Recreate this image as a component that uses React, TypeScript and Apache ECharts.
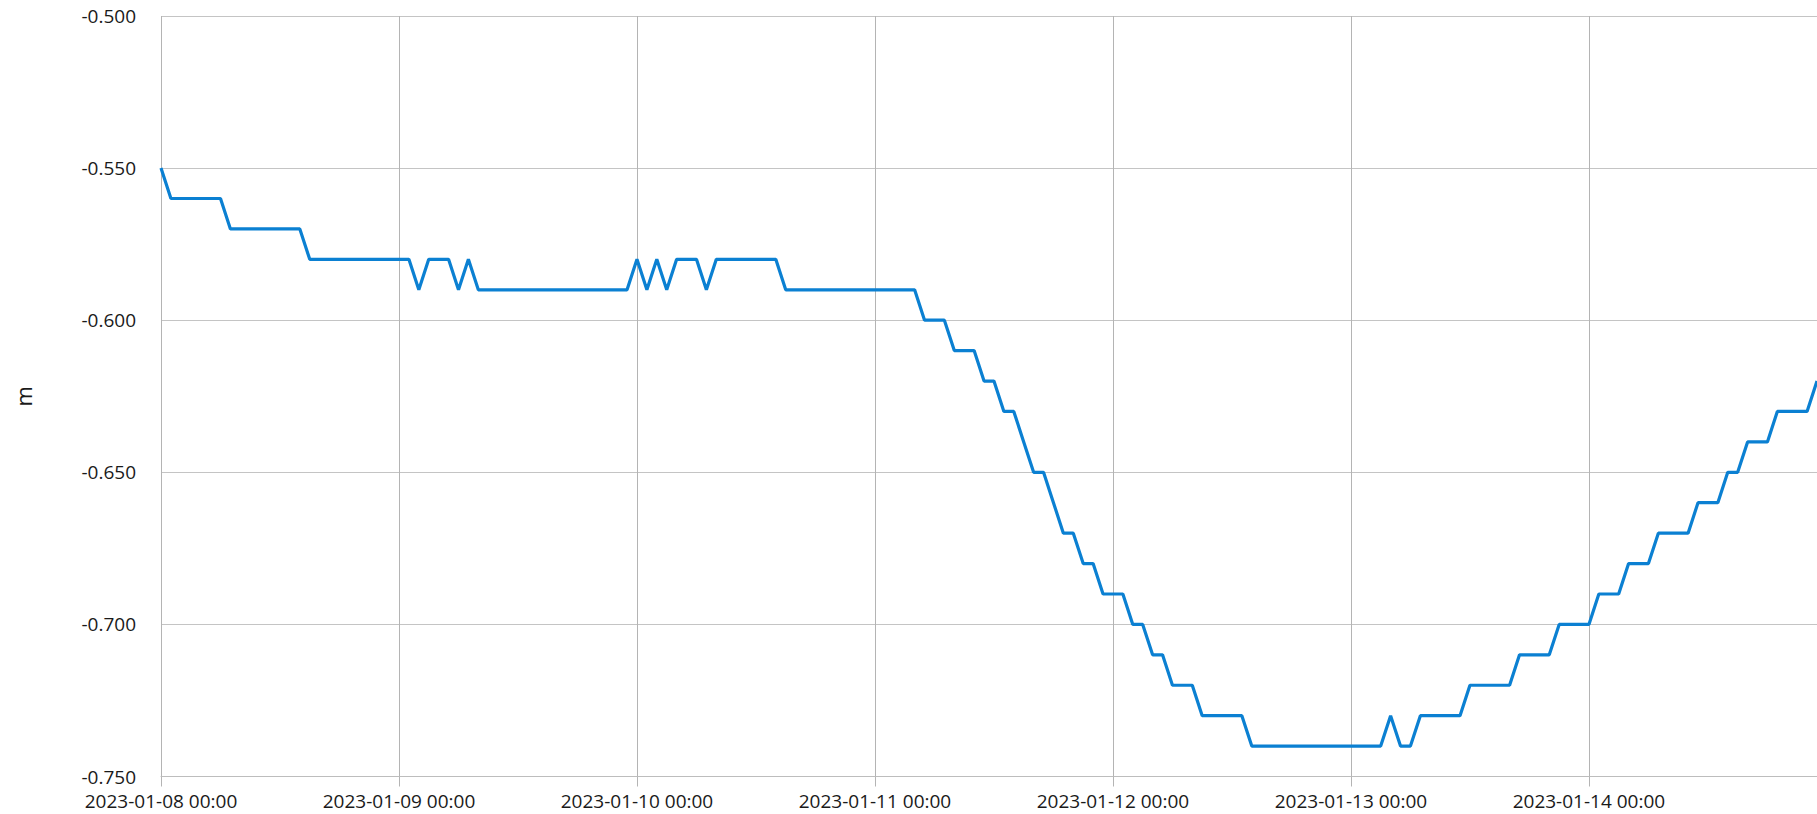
import React, { useEffect, useRef } from "react";
import * as echarts from "echarts";

// Hourly water level (m), starting 2023-01-08 00:00
const startYear = 2023;
const startMonth = 0; // January
const startDay = 8;

const values: number[] = [
  -0.55,
  -0.56, -0.56, -0.56, -0.56, -0.56, -0.56,
  -0.57, -0.57, -0.57, -0.57, -0.57, -0.57, -0.57, -0.57,
  -0.58, -0.58, -0.58, -0.58, -0.58, -0.58, -0.58, -0.58, -0.58, -0.58, -0.58,
  -0.59,
  -0.58, -0.58, -0.58,
  -0.59,
  -0.58,
  -0.59, -0.59, -0.59, -0.59, -0.59, -0.59, -0.59, -0.59, -0.59, -0.59, -0.59, -0.59, -0.59, -0.59, -0.59, -0.59,
  -0.58,
  -0.59,
  -0.58,
  -0.59,
  -0.58, -0.58, -0.58,
  -0.59,
  -0.58, -0.58, -0.58, -0.58, -0.58, -0.58, -0.58,
  -0.59, -0.59, -0.59, -0.59, -0.59, -0.59, -0.59, -0.59, -0.59, -0.59, -0.59, -0.59, -0.59, -0.59,
  -0.60, -0.60, -0.60,
  -0.61, -0.61, -0.61,
  -0.62, -0.62,
  -0.63, -0.63,
  -0.64,
  -0.65, -0.65,
  -0.66,
  -0.67, -0.67,
  -0.68, -0.68,
  -0.69, -0.69, -0.69,
  -0.70, -0.70,
  -0.71, -0.71,
  -0.72, -0.72, -0.72,
  -0.73, -0.73, -0.73, -0.73, -0.73,
  -0.74, -0.74, -0.74, -0.74, -0.74, -0.74, -0.74, -0.74, -0.74, -0.74, -0.74, -0.74, -0.74, -0.74,
  -0.73,
  -0.74, -0.74,
  -0.73, -0.73, -0.73, -0.73, -0.73,
  -0.72, -0.72, -0.72, -0.72, -0.72,
  -0.71, -0.71, -0.71, -0.71,
  -0.70, -0.70, -0.70, -0.70,
  -0.69, -0.69, -0.69,
  -0.68, -0.68, -0.68,
  -0.67, -0.67, -0.67, -0.67,
  -0.66, -0.66, -0.66,
  -0.65, -0.65,
  -0.64, -0.64, -0.64,
  -0.63, -0.63, -0.63, -0.63,
  -0.62,
];

const pad = (n: number) => (n < 10 ? "0" + n : "" + n);

const categories: string[] = values.map((_, i) => {
  const d = new Date(startYear, startMonth, startDay, i, 0, 0);
  return `${d.getFullYear()}-${pad(d.getMonth() + 1)}-${pad(d.getDate())} ${pad(d.getHours())}:${pad(d.getMinutes())}`;
});

const yMin = -0.75;
const yMax = -0.5;
const yStep = 0.05;
const yName = "m";

export default function App() {
  const ref = useRef<HTMLDivElement>(null);
  useEffect(() => {
    if (!ref.current) return;
    const chart = echarts.init(ref.current, undefined, { renderer: "svg" });
    const font = "'Open Sans', 'Noto Sans', sans-serif";
    chart.setOption({
      animation: false,
      backgroundColor: "#ffffff",
      grid: { left: 161, right: 0, top: 16, bottom: 37.5, containLabel: false },
      xAxis: {
        type: "category",
        data: categories,
        boundaryGap: false,
        axisLine: { show: true, lineStyle: { color: "#bdbdbd", width: 1 } },
        axisTick: { show: true, interval: 23, length: 10, lineStyle: { color: "#b4b4b4" } },
        axisLabel: {
          interval: 23,
          margin: 15,
          color: "#1a1a1a",
          fontFamily: font,
          fontSize: 19,
        },
        splitLine: { show: true, interval: 23, lineStyle: { color: "#b4b4b4", width: 1 } },
      },
      yAxis: {
        type: "value",
        min: yMin,
        max: yMax,
        interval: yStep,
        name: yName,
        nameLocation: "middle",
        nameGap: 127,
        nameTextStyle: { color: "#1a1a1a", fontFamily: font, fontSize: 22 },
        axisLine: { show: false },
        axisTick: { show: false },
        axisLabel: {
          margin: 25,
          color: "#1a1a1a",
          fontFamily: font,
          fontSize: 19,
          formatter: (v: number) => v.toFixed(3),
        },
        splitLine: { show: true, lineStyle: { color: "#c4c4c4", width: 1 } },
      },
      series: [
        {
          type: "line",
          data: values,
          showSymbol: false,
          symbol: "none",
          lineStyle: { color: "#0b80d2", width: 3.2 },
          itemStyle: { color: "#0b80d2" },
        },
      ],
    });
    return () => chart.dispose();
  }, []);
  return (
    <div
      ref={ref}
      style={{ position: "fixed", left: 0, top: 0, width: 1817, height: 814, background: "#fff" }}
    />
  );
}
